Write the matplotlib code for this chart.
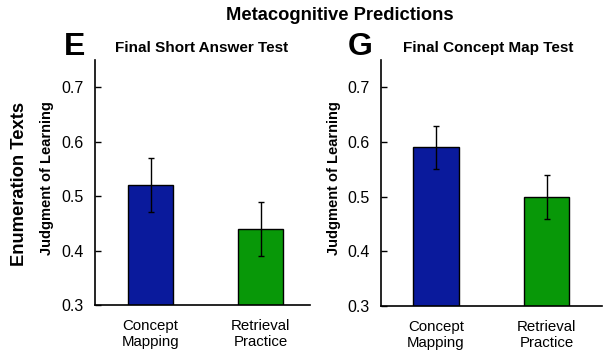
import matplotlib
matplotlib.use("Agg")
import matplotlib.pyplot as plt

plt.rcParams['font.family'] = ['Liberation Sans', 'DejaVu Sans']

categories = ["Concept\nMapping", "Retrieval\nPractice"]
short_answer = [0.52, 0.44]
short_answer_err = [0.05, 0.05]
concept_map = [0.59, 0.50]
concept_map_err = [0.04, 0.04]
yticks = [0.3, 0.4, 0.5, 0.6, 0.7]
colors = ["#0a1a9c", "#089808"]

fig = plt.figure(figsize=(6.16, 3.6), dpi=100)
W, H = 616, 360

def make_ax(x0, x1, y0, y1):
    return fig.add_axes([x0 / W, 1 - y1 / H, (x1 - x0) / W, (y1 - y0) / H])

axL = make_ax(95, 310, 60, 305)
axR = make_ax(381, 602, 60, 306)

for ax, vals, errs, xlim in [(axL, short_answer, short_answer_err, (0.495, 2.45)),
                             (axR, concept_map, concept_map_err, (0.505, 2.5))]:
    xs = [1, 2]
    ax.bar(xs, vals, width=0.41, color=colors, edgecolor="black", linewidth=1.0, zorder=2)
    ax.errorbar(xs, vals, yerr=errs, fmt="none", ecolor="black", elinewidth=1.0,
                capsize=2.5, capthick=1.0, zorder=3)
    ax.set_xlim(*xlim)
    ax.set_ylim(0.3, 0.75)
    ax.set_yticks(yticks)
    ax.set_yticklabels([f"{v:.1f}" for v in yticks], fontsize=11.5)
    ax.set_xticks(xs)
    ax.set_xticklabels(categories, fontsize=10.8, linespacing=1.15)
    ax.tick_params(axis="y", direction="in", length=4, width=1, pad=8)
    ax.tick_params(axis="x", length=0, pad=10)
    for s in ["top", "right"]:
        ax.spines[s].set_visible(False)
    for s in ["left", "bottom"]:
        ax.spines[s].set_linewidth(1.2)

fig.text(340 / W, 1 - 16 / H, "Metacognitive Predictions", ha="center", va="center",
         fontsize=13.2, fontweight="bold")
fig.text(75 / W, 1 - 47 / H, "E", ha="center", va="center", fontsize=23, fontweight="bold")
fig.text(202 / W, 1 - 48 / H, "Final Short Answer Test", ha="center", va="center",
         fontsize=11, fontweight="bold")
fig.text(360 / W, 1 - 47 / H, "G", ha="center", va="center", fontsize=23, fontweight="bold")
fig.text(488 / W, 1 - 48 / H, "Final Concept Map Test", ha="center", va="center",
         fontsize=11, fontweight="bold")
fig.text(20 / W, 1 - 184 / H, "Enumeration Texts", ha="center", va="center",
         rotation=90, fontsize=13.2, fontweight="bold")
fig.text(47 / W, 1 - 178 / H, "Judgment of Learning", ha="center", va="center",
         rotation=90, fontsize=10.5, fontweight="bold")
fig.text(334 / W, 1 - 178 / H, "Judgment of Learning", ha="center", va="center",
         rotation=90, fontsize=10.5, fontweight="bold")

fig.savefig("out.png", dpi=100)
